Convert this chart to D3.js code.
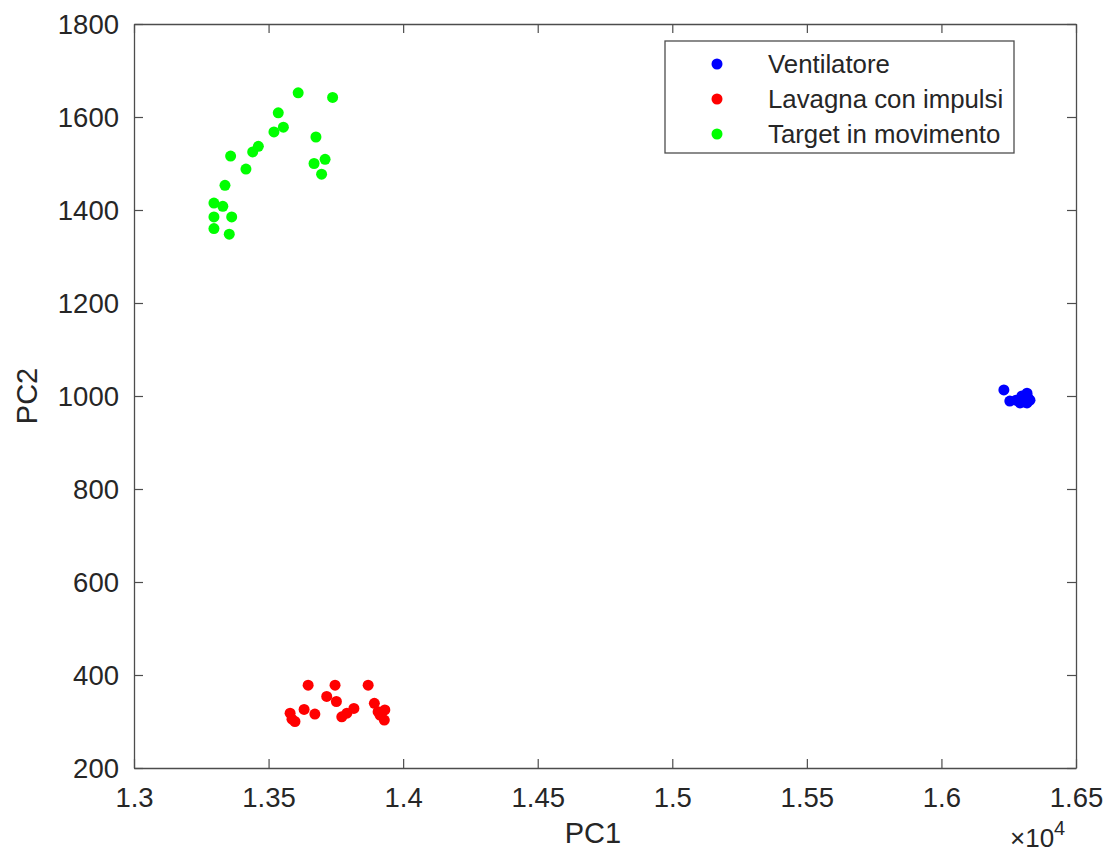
<!DOCTYPE html>
<html><head><meta charset="utf-8">
<script src="https://cdn.jsdelivr.net/npm/d3@7"></script>
<style>
html,body{margin:0;padding:0;background:#fff;}
svg text{font-family:"Liberation Sans",Arial,Helvetica,sans-serif;fill:#262626;}
</style></head>
<body><div id="chart"></div>
<script>
const seriesNames = ["Ventilatore","Lavagna con impulsi","Target in movimento"];
const seriesColors = ["#0000ff","#ff0000","#00ff00"];
const ventilatoreX = [16232,16254,16277,16299,16318,16322,16318,16307,16329,16292];
const ventilatoreY = [1013,989,991,1000,1006,996,985,987,991,985];
const lavagnaX = [13647,13747,13870,13716,13752,13632,13672,13580,13598,13587,13772,13791,13817,13893,13907,13932,13930,13914];
const lavagnaY = [378,378,378,354,343,326,316,318,300,305,310,318,328,339,321,325,303,314];
const targetX = [13610,13738,13536,13555,13520,13676,13462,13441,13359,13710,13669,13697,13416,13338,13297,13330,13297,13363,13297,13354];
const targetY = [1652,1642,1609,1578,1568,1557,1537,1525,1516,1509,1500,1477,1488,1453,1415,1408,1385,1385,1360,1348];
const xTicks = [13000,13500,14000,14500,15000,15500,16000,16500];
const xTickLabels = ["1.3","1.35","1.4","1.45","1.5","1.55","1.6","1.65"];
const yTicks = [200,400,600,800,1000,1200,1400,1600,1800];

const W = 1111, H = 856;
const L = 134, R = 1076, T = 24, B = 768;
const svg = d3.select("#chart").append("svg").attr("width",W).attr("height",H);

const x = d3.scaleLinear().domain([13000,16500]).range([L,R]);
const y = d3.scaleLinear().domain([200,1800]).range([B,T]);
const axisColor = "#4d4d4d";
const tickLen = 9;

// points
const series = [
  {xs: ventilatoreX, ys: ventilatoreY},
  {xs: lavagnaX, ys: lavagnaY},
  {xs: targetX, ys: targetY}
];
series.forEach((s,i)=>{
  svg.append("g").selectAll("circle").data(s.xs.map((v,j)=>[v,s.ys[j]])).join("circle")
    .attr("cx",d=>x(d[0])).attr("cy",d=>y(d[1])).attr("r",5.5)
    .attr("fill",seriesColors[i]);
});

// axes
const fmtX = (d,i)=>xTickLabels[i];
const gx = svg.append("g").attr("transform",`translate(0,${B})`)
  .call(d3.axisBottom(x).tickValues(xTicks).tickFormat(fmtX).tickSizeInner(-tickLen).tickSizeOuter(0).tickPadding(19));
const gxt = svg.append("g").attr("transform",`translate(0,${T})`)
  .call(d3.axisTop(x).tickValues(xTicks).tickFormat("").tickSizeInner(-tickLen).tickSizeOuter(0));
const gy = svg.append("g").attr("transform",`translate(${L},0)`)
  .call(d3.axisLeft(y).tickValues(yTicks).tickFormat(d3.format("d")).tickSizeInner(-tickLen).tickSizeOuter(0).tickPadding(15));
const gyr = svg.append("g").attr("transform",`translate(${R},0)`)
  .call(d3.axisRight(y).tickValues(yTicks).tickFormat("").tickSizeInner(-tickLen).tickSizeOuter(0));
[gx,gxt,gy,gyr].forEach(g=>{
  g.select(".domain").attr("stroke",axisColor).attr("stroke-width",1.3);
  g.selectAll(".tick line").attr("stroke",axisColor).attr("stroke-width",1.2);
  g.selectAll("text").attr("font-size",27.5).attr("fill","#262626")
   .style("font-family",'"Liberation Sans",Arial,sans-serif');
});
gy.selectAll(".tick text").attr("dy","0.35em");

// axis labels
svg.append("text").attr("x",(L+R)/2-12).attr("y",843).attr("text-anchor","middle")
  .attr("font-size",29).text("PC1");
svg.append("text").attr("transform",`translate(37,${(T+B)/2}) rotate(-90)`).attr("text-anchor","middle")
  .attr("font-size",29).text("PC2");
// exponent
const ex = svg.append("text").attr("x",1010).attr("y",847).attr("font-size",26);
ex.append("tspan").text("\u00d710");
ex.append("tspan").attr("dy",-12).attr("font-size",20).text("4");

// legend
const lg = svg.append("g");
lg.append("rect").attr("x",665).attr("y",41).attr("width",349).attr("height",112)
  .attr("fill","#fff").attr("stroke",axisColor).attr("stroke-width",1.3);
seriesNames.forEach((n,i)=>{
  const cy = 64 + i*35;
  lg.append("circle").attr("cx",717).attr("cy",cy).attr("r",5.5).attr("fill",seriesColors[i]);
  lg.append("text").attr("x",768).attr("y",cy).attr("dy","0.35em").attr("font-size",25.8).text(n);
});
</script>
</body></html>
